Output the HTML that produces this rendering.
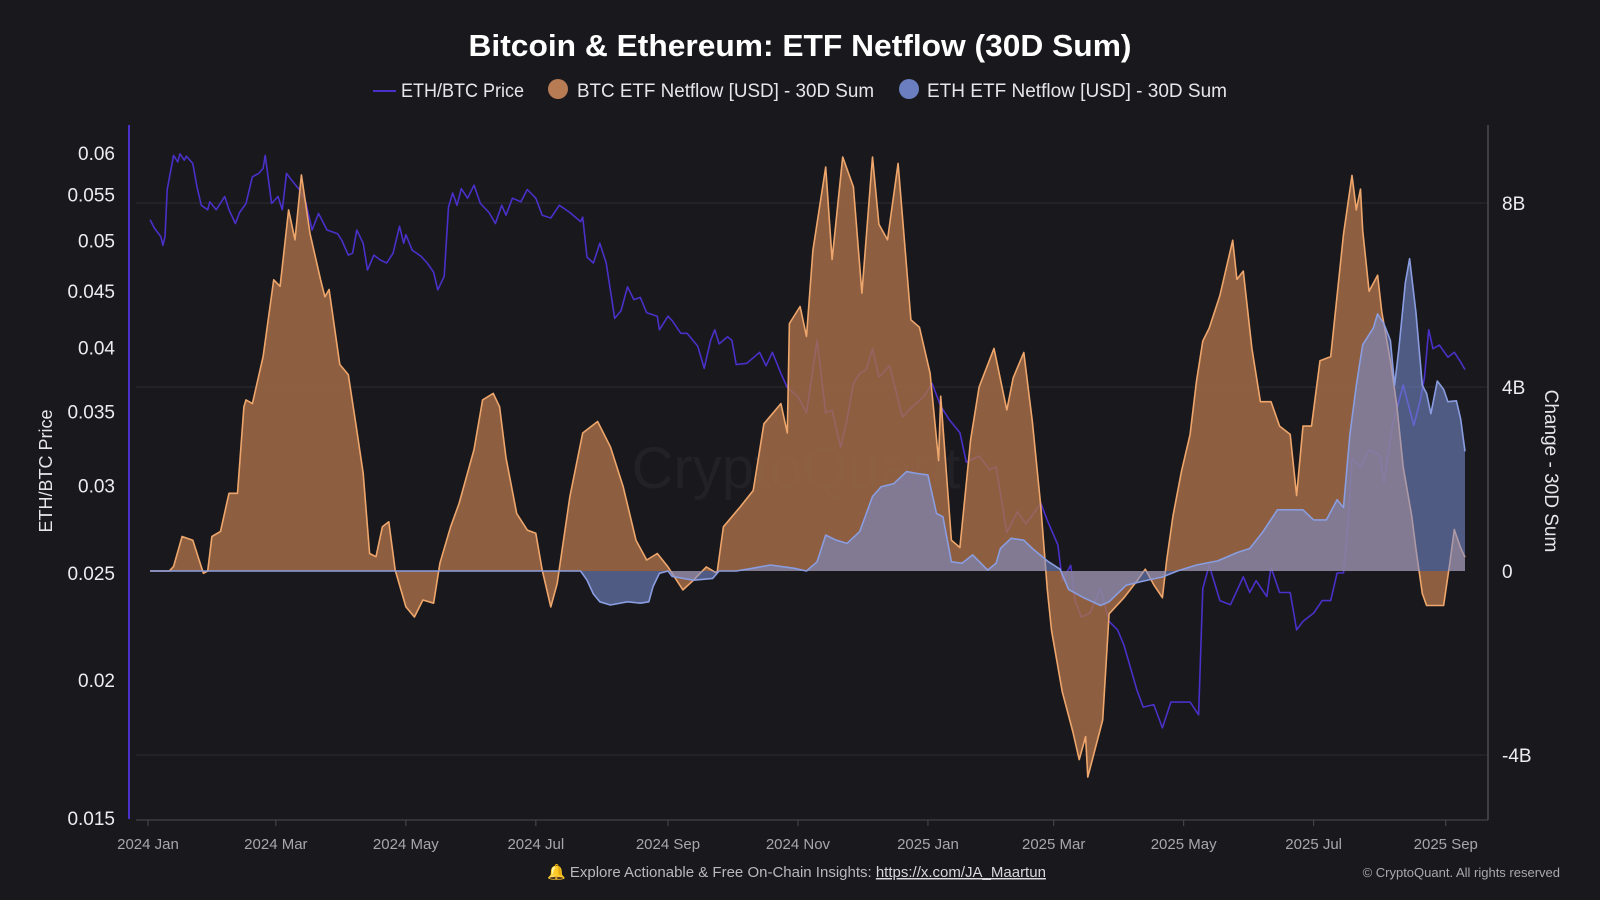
<!DOCTYPE html>
<html><head><meta charset="utf-8"><style>
html,body{margin:0;padding:0;background:#19191d;}
svg{display:block;font-family:"Liberation Sans",sans-serif;}
</style></head><body>
<svg id="chart" width="1600" height="900" viewBox="0 0 1600 900" xmlns="http://www.w3.org/2000/svg">
<rect x="0" y="0" width="1600" height="900" fill="#19191d"/>
<text x="800" y="56" text-anchor="middle" font-size="31" font-weight="bold" fill="#ffffff" textLength="663" lengthAdjust="spacingAndGlyphs">Bitcoin &amp; Ethereum: ETF Netflow (30D Sum)</text>
<g>
  <g>
    <line x1="373" y1="91" x2="396" y2="91" stroke="#4b2fc9" stroke-width="2"/>
    <text x="401" y="97" font-size="19" fill="#e6e6ea" textLength="123" lengthAdjust="spacingAndGlyphs">ETH/BTC Price</text>
  </g>
  <g>
    <circle cx="558" cy="89" r="10" fill="#b87c54"/>
    <text x="577" y="97" font-size="19" fill="#e6e6ea" textLength="297" lengthAdjust="spacingAndGlyphs">BTC ETF Netflow [USD] - 30D Sum</text>
  </g>
  <g>
    <circle cx="909" cy="89" r="10" fill="#6a7ec0"/>
    <text x="927" y="97" font-size="19" fill="#e6e6ea" textLength="300" lengthAdjust="spacingAndGlyphs">ETH ETF Netflow [USD] - 30D Sum</text>
  </g>
</g>
<text x="796" y="488" text-anchor="middle" font-size="58" fill="#212126">CryptoQuant</text>
<g id="grid"></g>
<g id="plot"></g>
<g id="axes"></g>
<text transform="translate(52,471) rotate(-90)" text-anchor="middle" font-size="18" fill="#e6e6ea">ETH/BTC Price</text>
<text transform="translate(1545,471) rotate(90)" text-anchor="middle" font-size="19" fill="#e6e6ea">Change - 30D Sum</text>
<g>
  <text x="547" y="877" font-size="15" fill="#b8b8be">🔔 Explore Actionable &amp; Free On-Chain Insights: <tspan text-decoration="underline" fill="#d8d8dc">https://x.com/JA_Maartun</tspan></text>
  <text x="1560" y="877" text-anchor="end" font-size="13" fill="#a8a8ae">© CryptoQuant. All rights reserved</text>
</g>
</svg>
<script>
const xTickDays = [0, 60, 121, 182, 244, 305, 366, 425, 486, 547, 609];
const xTickLabels = ["2024 Jan","2024 Mar","2024 May","2024 Jul","2024 Sep","2024 Nov","2025 Jan","2025 Mar","2025 May","2025 Jul","2025 Sep"];
const leftTicks = [0.06, 0.055, 0.05, 0.045, 0.04, 0.035, 0.03, 0.025, 0.02, 0.015];
const rightTicks = [8, 4, 0, -4];
const rightTickLabels = ["8B", "4B", "0", "-4B"];

const btcDays = [1,10,12,16,21,24,26,28,30,34,38,42,45,46,49,54,59,62,66,69,72,76,81,83,85,90,94,98,101,104,107,110,113,116,121,125,129,134,137,142,146,153,157,162,165,168,173,178,182,185,189,192,198,204,211,217,223,229,234,239,244,251,256,262,267,270,278,284,289,297,300,301,306,309,312,318,321,326,331,335,340,343,347,352,358,362,367,371,372,377,381,386,390,397,403,406,411,415,419,422,424,429,434,437,440,441,448,451,458,464,468,472,476,478,481,485,489,492,495,498,503,509,511,514,518,522,527,531,536,539,542,546,550,555,558,561,565,567,569,570,573,577,579,583,586,589,593,595,598,600,603,608,611,613,616,618];
const btcValues = [0,0,0.1,0.75,0.67,0.24,-0.05,0,0.75,0.86,1.69,1.69,3.57,3.72,3.64,4.66,6.33,6.19,7.85,7.2,8.61,7.34,6.33,5.96,6.12,4.49,4.27,3.06,2.12,0.38,0.31,0.96,1.07,0.02,-0.78,-1.0,-0.63,-0.7,0.17,0.96,1.47,2.64,3.72,3.86,3.57,2.46,1.25,0.89,0.82,0.02,-0.78,-0.27,1.62,3.0,3.25,2.7,1.83,0.67,0.24,0.38,0.09,-0.41,-0.2,0.09,-0.05,0.96,1.4,1.75,3.2,3.64,3.0,5.38,5.75,5.1,6.97,8.78,6.77,9.0,8.35,6.04,9.0,7.54,7.2,8.86,5.46,5.3,4.3,2.4,3.8,0.67,0.51,2.85,4.0,4.84,3.5,4.2,4.75,3.24,1.38,-0.4,-1.29,-2.62,-3.5,-4.1,-3.6,-4.48,-3.24,-0.93,-0.58,-0.22,0.04,-0.3,-0.58,0.22,1.2,2.17,2.97,4.13,5.0,5.28,5.99,7.19,6.34,6.52,4.84,3.68,3.68,3.15,2.97,1.64,3.15,3.15,4.57,4.66,5.99,7.32,8.6,7.85,8.3,7.4,6.08,6.43,5.63,4.57,3.6,2.26,1.2,0.49,-0.49,-0.75,-0.75,-0.75,0.2,0.9,0.5,0.3];

const ethDays = [1,203,206,209,212,217,225,231,235,237,240,244,246,256,265,268,276,284,292,303,309,314,318,323,328,334,340,344,350,356,361,366,370,373,377,382,387,394,398,400,405,411,415,422,428,432,439,447,451,459,467,476,483,492,502,511,517,523,530,536,542,547,553,558,561,564,567,570,575,577,580,583,585,587,590,592,595,598,600,602,605,608,610,614,616,618];
const ethValues = [0,0,-0.2,-0.5,-0.67,-0.74,-0.67,-0.7,-0.67,-0.34,-0.05,0,-0.12,-0.2,-0.16,0,0,0.06,0.13,0.06,0,0.2,0.78,0.67,0.6,0.86,1.62,1.83,1.9,2.16,2.12,2.09,1.25,1.18,0.2,0.17,0.35,0.02,0.17,0.49,0.71,0.67,0.49,0.22,0.04,-0.4,-0.58,-0.75,-0.67,-0.31,-0.22,-0.13,0,0.13,0.22,0.4,0.49,0.84,1.33,1.33,1.33,1.11,1.11,1.55,1.38,2.97,4.04,4.92,5.28,5.59,5.37,5.01,4.04,4.84,6.26,6.79,5.63,4.04,3.86,3.42,4.13,3.95,3.68,3.7,3.3,2.6];

const priceDays = [1,3,6,7,8,9,12,14,15,17,18,21,23,25,28,29,32,36,38,41,43,46,49,52,54,55,58,61,63,65,68,71,74,77,80,84,89,91,94,96,98,101,103,106,109,112,115,118,120,121,124,128,131,134,136,139,141,143,145,147,150,153,156,160,163,166,168,171,175,178,182,185,189,193,198,203,204,206,209,212,215,219,222,225,228,231,234,239,240,244,246,250,253,258,261,264,266,268,272,274,276,281,287,290,293,297,300,305,309,314,318,321,325,328,331,334,337,340,343,348,354,359,364,368,372,376,381,384,390,395,398,403,408,412,419,422,427,429,433,435,438,442,447,451,455,458,464,467,472,476,480,489,493,495,498,503,508,514,517,520,525,527,531,536,539,542,547,551,555,558,561,563,565,569,573,578,580,584,589,594,597,599,601,603,606,610,613,616,618];
const priceValues = [0.0522,0.0513,0.0504,0.0495,0.0504,0.0556,0.0597,0.0589,0.0599,0.0591,0.0596,0.0587,0.0559,0.0538,0.0533,0.0542,0.0533,0.0548,0.0533,0.0518,0.0530,0.0540,0.0571,0.0575,0.0581,0.0597,0.0540,0.0548,0.0533,0.0575,0.0565,0.0556,0.0542,0.0511,0.0529,0.0511,0.0507,0.0500,0.0485,0.0487,0.0511,0.0497,0.0470,0.0485,0.0480,0.0477,0.0487,0.0515,0.0497,0.0506,0.0490,0.0484,0.0477,0.0468,0.0451,0.0464,0.0536,0.0552,0.0538,0.0557,0.0546,0.0561,0.0540,0.0530,0.0518,0.0538,0.0527,0.0546,0.0542,0.0556,0.0546,0.0527,0.0524,0.0538,0.0530,0.0520,0.0525,0.0483,0.0477,0.0497,0.0477,0.0425,0.0432,0.0454,0.0442,0.0444,0.0430,0.0427,0.0415,0.0427,0.0423,0.0412,0.0412,0.0401,0.0383,0.0406,0.0415,0.0403,0.0409,0.0406,0.0386,0.0387,0.0396,0.0385,0.0396,0.0379,0.0368,0.0361,0.0349,0.0406,0.0349,0.0351,0.0325,0.0344,0.0371,0.0379,0.0382,0.0399,0.0376,0.0385,0.0346,0.0354,0.0361,0.0371,0.0354,0.0344,0.0335,0.0315,0.0319,0.0310,0.0312,0.0272,0.0284,0.0277,0.0289,0.0279,0.0265,0.0246,0.0254,0.0236,0.0228,0.0230,0.0242,0.0226,0.0222,0.0215,0.0196,0.0189,0.0190,0.0181,0.0191,0.0191,0.0186,0.0242,0.0254,0.0236,0.0234,0.0248,0.0240,0.0246,0.0238,0.0253,0.0240,0.0240,0.0222,0.0226,0.0230,0.0236,0.0236,0.0250,0.0250,0.0275,0.0317,0.0312,0.0323,0.0320,0.0302,0.0340,0.0370,0.0340,0.0358,0.0376,0.0415,0.0399,0.0402,0.0392,0.0396,0.0388,0.0382];

const NS = "http://www.w3.org/2000/svg";
function xScale(d){ return 148 + d * 2.131; }
function yRight(v){ return 571 - v * 46; }
function yLeft(p){ return 153 + Math.log(0.06 / p) / Math.log(4) * 665; }
function mk(tag, attrs, parent){
  const el = document.createElementNS(NS, tag);
  for (const k in attrs) el.setAttribute(k, attrs[k]);
  parent.appendChild(el);
  return el;
}
const grid = document.getElementById('grid');
const plot = document.getElementById('plot');
const axes = document.getElementById('axes');

rightTicks.forEach((v, i) => {
  if (v === 0) return;
  const gl = mk('line', {x1: 136, x2: 1488, y1: yRight(v), y2: yRight(v), stroke: '#2c2c32', 'stroke-width': 1}, grid);
  
  
});

// price line
let pd = '';
priceDays.forEach((d, i) => { pd += (i ? 'L' : 'M') + xScale(d).toFixed(1) + ' ' + yLeft(priceValues[i]).toFixed(1); });
const priceLine = mk('path', {d: pd, fill: 'none', stroke: '#4b2fc9', 'stroke-width': 1.6, 'stroke-linejoin': 'round'}, plot);



function areaPath(days, vals){
  let s = 'M' + xScale(days[0]).toFixed(1) + ' ' + yRight(0);
  days.forEach((d, i) => { s += 'L' + xScale(d).toFixed(1) + ' ' + yRight(vals[i]).toFixed(1); });
  s += 'L' + xScale(days[days.length - 1]).toFixed(1) + ' ' + yRight(0) + 'Z';
  return s;
}
function linePath(days, vals){
  let s = '';
  days.forEach((d, i) => { s += (i ? 'L' : 'M') + xScale(d).toFixed(1) + ' ' + yRight(vals[i]).toFixed(1); });
  return s;
}
const btcArea = mk('path', {d: areaPath(btcDays, btcValues), fill: 'rgba(170,112,74,0.8)', stroke: 'none'}, plot);


const btcLine = mk('path', {d: linePath(btcDays, btcValues), fill: 'none', stroke: '#eea66c', 'stroke-width': 1.6, 'stroke-linejoin': 'round'}, plot);


const ethArea = mk('path', {d: areaPath(ethDays, ethValues), fill: 'rgba(122,142,212,0.56)', stroke: 'none'}, plot);


const ethLine = mk('path', {d: linePath(ethDays, ethValues), fill: 'none', stroke: '#8a9de0', 'stroke-width': 1.6, 'stroke-linejoin': 'round'}, plot);



// axes
const leftAxis = mk('line', {x1: 129, x2: 129, y1: 125, y2: 819, stroke: '#4b2fc9', 'stroke-width': 2}, axes);


const rightAxis = mk('line', {x1: 1488, x2: 1488, y1: 125, y2: 820, stroke: '#4a4a52', 'stroke-width': 1.5}, axes);


const xAxis = mk('line', {x1: 136, x2: 1488, y1: 820, y2: 820, stroke: '#4a4a52', 'stroke-width': 1}, axes);



leftTicks.forEach(p => {
  const t = mk('text', {x: 115, y: yLeft(p) + 7, 'text-anchor': 'end', 'font-size': 19, fill: '#ececf0'}, axes);
  t.textContent = String(p);
  
  
});
rightTicks.forEach((v, i) => {
  const t = mk('text', {x: 1502, y: yRight(v) + 7, 'font-size': 19, fill: '#ececf0'}, axes);
  t.textContent = rightTickLabels[i];
  
  
});
xTickDays.forEach((d, i) => {
  const x = xScale(d);
  const tk = mk('line', {x1: x, x2: x, y1: 820, y2: 826, stroke: '#4a4a52', 'stroke-width': 1}, axes);
  
  
  const t = mk('text', {x: x, y: 849, 'text-anchor': 'middle', 'font-size': 15, fill: '#a6a6ad'}, axes);
  t.textContent = xTickLabels[i];
  
  
});
</script>
</body></html>
